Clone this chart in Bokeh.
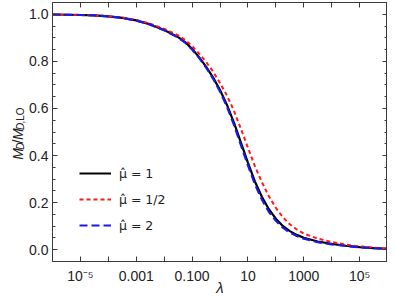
import math
from bokeh.plotting import figure
from bokeh.layouts import row
from bokeh.models import (Range1d, FixedTicker, LogAxis, LinearAxis, Legend, LegendItem,
                          PrintfTickFormatter, CustomJSTickFormatter, ColumnDataSource)
from bokeh.core.properties import value
from bokeh.embed import file_html
from bokeh.resources import INLINE

# ---- data ----
log_lambda = [-6.0, -5.5, -5.0, -4.5, -4.0, -3.5, -3.0, -2.5, -2.0, -1.5, -1.25, -1.0, -0.75,
              -0.5, -0.25, 0.0, 0.25, 0.5, 0.75, 1.0, 1.25, 1.5, 1.75, 2.0, 2.25, 2.5, 2.75,
              3.0, 3.5, 4.0, 4.5, 5.0, 5.5, 6.0]
ratio_mu_1 = [0.999, 0.998, 0.997, 0.995, 0.991, 0.985, 0.974, 0.957, 0.933, 0.903, 0.882, 0.853,
              0.818, 0.778, 0.732, 0.678, 0.615, 0.54, 0.455, 0.37, 0.29, 0.225, 0.172, 0.132,
              0.101, 0.079, 0.063, 0.051, 0.035, 0.025, 0.017, 0.011, 0.007, 0.004]
ratio_mu_half = [0.999, 0.998, 0.997, 0.995, 0.992, 0.986, 0.976, 0.960, 0.938, 0.910, 0.891, 0.865,
                 0.833, 0.798, 0.757, 0.708, 0.655, 0.59, 0.513, 0.434, 0.355, 0.287, 0.227, 0.178,
                 0.138, 0.108, 0.086, 0.069, 0.047, 0.033, 0.022, 0.014, 0.009, 0.005]
ratio_mu_2 = [0.999, 0.998, 0.997, 0.995, 0.991, 0.985, 0.973, 0.956, 0.932, 0.901, 0.880, 0.850,
              0.815, 0.774, 0.727, 0.672, 0.607, 0.53, 0.444, 0.358, 0.278, 0.213, 0.161, 0.123,
              0.094, 0.073, 0.058, 0.047, 0.032, 0.023, 0.016, 0.010, 0.0065, 0.004]
lam = [10 ** v for v in log_lambda]

x_major_ticks = [1e-5, 1e-3, 1e-1, 1e1, 1e3, 1e5]
x_major_labels = ["10\u207b\u2075", "0.001", "0.100", "10", "1000", "10\u2075"]
x_minor_ticks = [1e-6, 1e-4, 1e-2, 1e0, 1e2, 1e4, 1e6]
y_major_ticks = [0.0, 0.2, 0.4, 0.6, 0.8, 1.0]
y_minor_ticks = [0.05, 0.1, 0.15, 0.25, 0.3, 0.35, 0.45, 0.5, 0.55, 0.65, 0.7, 0.75, 0.85, 0.9, 0.95]
legend_labels = ["\u03bc\u0302 = 1", "\u03bc\u0302 = 1/2", "\u03bc\u0302 = 2"]
y_label_parts = ["M", "D", "/", "M", "D", ",LO"]

FONT = "Liberation Sans"
FRAME = "#3a3a3a"
TXT = "#222222"
H = 298
LW = 26

# ---------- y-axis label (separate narrow figure, so subscripts are possible) ----------
lab = figure(width=LW, height=H, output_backend="svg", toolbar_location=None,
             x_range=Range1d(0, LW), y_range=Range1d(0, H), min_border=0,
             x_axis_location=None, y_axis_location=None)
lab.xgrid.visible = False
lab.ygrid.visible = False
lab.outline_line_color = None
styles = [("italic", 14, 0.833, 0), ("italic", 10, 0.722, 3), ("normal", 14, 0.278, 0),
          ("italic", 14, 0.833, 0), ("italic", 10, 0.722, 3), ("normal", 10, 1.612, 3)]
ypos = 117.0
for txt, (st, fs, w, sub) in zip(y_label_parts, styles):
    lab.text(x=[17 + sub], y=[ypos], text=[txt], angle=math.pi / 2, text_align="left",
             text_baseline="alphabetic", text_font=value(FONT), text_font_style=st,
             text_font_size=f"{fs}px", text_color=TXT)
    ypos += w * fs

# ---------- main plot ----------
p = figure(width=387 - LW, height=H, x_axis_type="log", output_backend="svg", toolbar_location=None,
           x_range=Range1d(1e-6, 1e6), y_range=Range1d(-0.05, 1.05),
           min_border_left=23, min_border_right=0, min_border_top=2, min_border_bottom=37)
p.xgrid.visible = False
p.ygrid.visible = False
p.outline_line_color = FRAME

src = ColumnDataSource(dict(x=lam, a=ratio_mu_1, b=ratio_mu_half, c=ratio_mu_2))
r1 = p.line("x", "a", source=src, line_color="black", line_width=2.2)
r2 = p.line("x", "b", source=src, line_color="#ff1a1a", line_width=2, line_dash="4 3")
r3 = p.line("x", "c", source=src, line_color="#1a1ae6", line_width=2.2, line_dash="8 4")

xt = FixedTicker(ticks=x_major_ticks, minor_ticks=x_minor_ticks)
yt = FixedTicker(ticks=y_major_ticks, minor_ticks=y_minor_ticks)

def style(ax):
    ax.axis_line_color = FRAME
    ax.major_tick_line_color = FRAME
    ax.minor_tick_line_color = FRAME
    ax.major_tick_in = 5
    ax.major_tick_out = 0
    ax.minor_tick_in = 5
    ax.minor_tick_out = 0
    ax.major_label_text_font = FONT
    ax.major_label_text_font_size = "14px"
    ax.major_label_text_color = TXT

xa = p.xaxis[0]
xa.ticker = xt
xa.major_label_overrides = {t: s for t, s in zip(x_major_ticks, x_major_labels)}
style(xa)
xa.major_label_standoff = 6
xa.axis_label = "\u03bb"
xa.axis_label_text_font = FONT
xa.axis_label_text_font_style = "italic"
xa.axis_label_text_font_size = "15px"
xa.axis_label_standoff = -8
xa.axis_label_text_color = TXT

ya = p.yaxis[0]
ya.ticker = yt
ya.formatter = PrintfTickFormatter(format="%.1f")
style(ya)
ya.minor_tick_in = 3
ya.major_label_standoff = 4

blank = CustomJSTickFormatter(code="return ''")
top = LogAxis(ticker=xt, formatter=blank)
style(top)
top.major_label_standoff = 0
top.major_label_text_font_size = "2px"
p.add_layout(top, "above")
right = LinearAxis(ticker=yt, formatter=blank)
style(right)
right.minor_tick_in = 3
right.major_label_standoff = 0
right.major_label_text_font_size = "2px"
p.add_layout(right, "right")

legend = Legend(items=[LegendItem(label=legend_labels[0], renderers=[r1]),
                       LegendItem(label=legend_labels[1], renderers=[r2]),
                       LegendItem(label=legend_labels[2], renderers=[r3])],
                location=(27, 26), padding=0, margin=0, spacing=6,
                glyph_width=32, glyph_height=20, label_height=20, label_standoff=8,
                label_text_font="DejaVu Sans", label_text_font_size="12.5px", label_text_color=TXT,
                border_line_color=None, background_fill_alpha=0)
p.add_layout(legend, "center")

open("out.html", "w").write(file_html(row(lab, p), INLINE))
